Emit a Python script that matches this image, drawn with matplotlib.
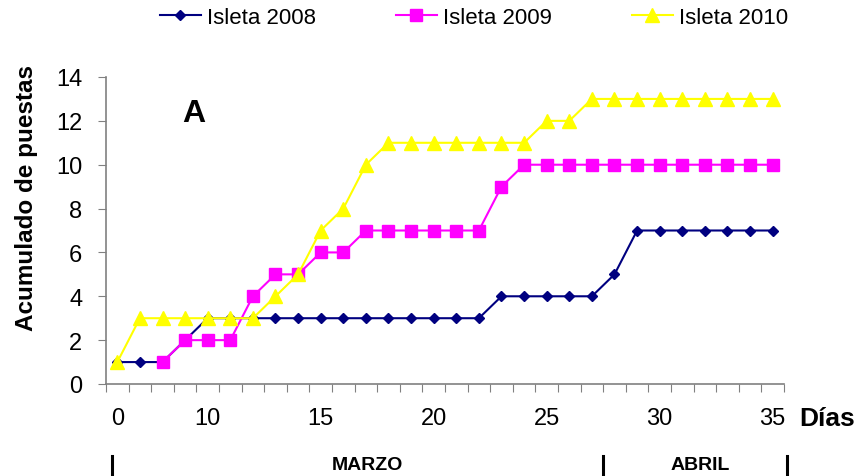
import numpy as np
import matplotlib
matplotlib.use("Agg")
import matplotlib.pyplot as plt

plt.rcParams['font.family'] = ['Liberation Sans', 'DejaVu Sans']

nan = np.nan
isleta_2008 = [1, 1, 1, 2, 3, 3, 3, 3, 3, 3, 3, 3, 3, 3, 3, 3, 3, 4, 4, 4, 4, 4, 5, 7, 7, 7, 7, 7, 7, 7]
isleta_2009 = [nan, nan, 1, 2, 2, 2, 4, 5, 5, 6, 6, 7, 7, 7, 7, 7, 7, 9, 10, 10, 10, 10, 10, 10, 10, 10, 10, 10, 10, 10]
isleta_2010 = [1, 3, 3, 3, 3, 3, 3, 4, 5, 7, 8, 10, 11, 11, 11, 11, 11, 11, 11, 12, 12, 13, 13, 13, 13, 13, 13, 13, 13, 13]
tick_pos = [0, 4, 9, 14, 19, 24, 29]
tick_labels = ["0", "10", "15", "20", "25", "30", "35"]
y_ticks = [0, 2, 4, 6, 8, 10, 12, 14]

x = np.arange(len(isleta_2008))
W, H = 859, 477

fig = plt.figure(figsize=(W/100, H/100), dpi=100)
ax = fig.add_axes([106/W, 1-385/H, 678/W, 307/H])

ax.plot(x, isleta_2008, color='#000080', marker='D', markersize=5.5, lw=1.5, label='Isleta 2008')
ax.plot(x, isleta_2009, color='#FF00FF', marker='s', markersize=8.3, lw=1.5, label='Isleta 2009')
ax.plot(x, isleta_2010, color='#FFFF00', marker='^', markersize=9.5, lw=1.5, label='Isleta 2010')

ax.set_xlim(-0.5, len(x) - 0.5)
ax.set_ylim(0, 14)
ax.set_yticks(y_ticks)
ax.set_yticklabels([str(v) for v in y_ticks], fontsize=17)

ax.set_xticks(np.arange(-0.5, len(x)))
ax.set_xticklabels([])
ax.tick_params(axis='x', length=6, color='#808080', direction='out')
ax.tick_params(axis='y', length=6, color='#808080', direction='out', pad=11)
xtr = ax.get_xaxis_transform()
for p, lab in zip(tick_pos, tick_labels):
    ax.text(p, -34/307, lab, ha='center', va='center', fontsize=17, transform=xtr)

for s in ['top', 'right']:
    ax.spines[s].set_visible(False)
for s in ['left', 'bottom']:
    ax.spines[s].set_color('#808080')
    ax.spines[s].set_linewidth(1.2)

fig.text(27/W, 1-198/H, 'Acumulado de puestas', fontsize=17.5, fontweight='bold',
         rotation=90, ha='center', va='center')

fig.text(194/W, 1-114/H, 'A', fontsize=23, fontweight='bold', ha='center', va='center')
fig.text(827/W, 1-419/H, 'Días', fontsize=19, fontweight='bold', ha='center', va='center')
fig.text(367/W, 1-466/H, 'MARZO', fontsize=14, fontweight='bold', ha='center', va='center')
fig.text(700/W, 1-466/H, 'ABRIL', fontsize=14, fontweight='bold', ha='center', va='center')
for xp in [112, 603, 787]:
    fig.add_artist(plt.Line2D([xp/W, xp/W], [1-457/H, 1-477/H], color='black', lw=2.2,
                              transform=fig.transFigure))

fig.legend(loc='center', bbox_to_anchor=(474/W, 1-18/H), ncol=3, frameon=False,
           fontsize=16, columnspacing=3.6, handlelength=1.85, handletextpad=0.27)

fig.savefig('out.png', dpi=100)
